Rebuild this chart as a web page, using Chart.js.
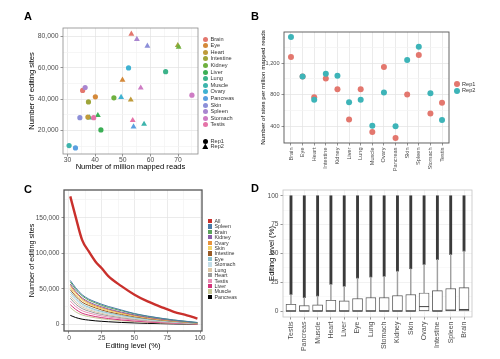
<!DOCTYPE html>
<html>
<head>
<meta charset="utf-8">
<script src="https://cdn.jsdelivr.net/npm/chart.js@4.4.1/dist/chart.umd.min.js"></script>
<style>
  body { margin: 0; background: #fff; }
  #fig { position: relative; width: 500px; height: 359px; overflow: hidden; font-family: "Liberation Sans", Arial, sans-serif; }
  #fig canvas { position: absolute; }
  .tag { position: absolute; font-weight: bold; font-size: 11px; line-height: 11px; color: #000; }
  .lt { position: absolute; white-space: nowrap; color: #333; }
  .mk { position: absolute; }
</style>
</head>
<body>
<div id="fig">
  <canvas id="chartA" width="250" height="180" style="left:0;top:0"></canvas>
  <canvas id="chartB" width="250" height="180" style="left:250px;top:0"></canvas>
  <canvas id="chartC" width="250" height="179" style="left:0;top:180px"></canvas>
  <canvas id="chartD" width="250" height="179" style="left:250px;top:180px"></canvas>
  <div class="tag" style="left:24px;top:10.5px">A</div>
  <div class="tag" style="left:251px;top:10.5px">B</div>
  <div class="tag" style="left:24px;top:183.5px">C</div>
  <div class="tag" style="left:251px;top:182.5px">D</div>
</div>
<script>
// tissues, alphabetical (panels A and B)
const tissues = ["Brain", "Eye", "Heart", "Intestine", "Kidney", "Liver", "Lung", "Muscle", "Ovary", "Pancreas", "Skin", "Spleen", "Stomach", "Testis"];
const tissueColors = ["#E3776E", "#D4893A", "#BF9B3A", "#9EA53A", "#6FB03F", "#3BAF55", "#3CB38A", "#3DB4AC", "#3FB2D2", "#5A9FE0", "#8C8FD8", "#A986D0", "#CE7CC4", "#E573A8"];

// panel A: million mapped reads vs editing sites
const rep1Reads = [35.5, 40.1, 37.4, 37.6, 46.8, 42.1, 65.5, 30.6, 52.1, 32.9, 34.5, 36.4, 75.0, 39.5];
const rep1Sites = [45600, 41500, 28600, 38300, 40900, 20400, 57600, 10400, 60000, 8900, 28200, 47500, 42600, 28200];
const rep2Reads = [53.1, 49.9, 52.9, 69.9, 70.2, 41.0, 38.0, 57.7, 49.4, 53.9, 58.9, 55.1, 56.5, 53.6];
const rep2Sites = [81700, 52300, 39600, 74400, 73300, 29700, 28200, 24100, 41300, 22400, 74000, 78300, 47300, 26500];
const aXTicks = [30, 40, 50, 60, 70];
const aYTicks = [20000, 40000, 60000, 80000];

// panel B: sites per million mapped reads
const rep1PerMillion = [1276, 1031, 771, 1006, 872, 488, 872, 333, 1150, 257, 804, 1301, 564, 699];
const rep2PerMillion = [1528, 1031, 737, 1065, 1040, 708, 737, 409, 829, 404, 1238, 1406, 821, 484];
const bYTicks = [400, 800, 1200];

// panel C: cumulative sites above editing level
const levels = [1, 5, 10, 15, 20, 25, 30, 40, 50, 60, 70, 80, 90, 98];
const cSeries = ["All", "Spleen", "Brain", "Kidney", "Ovary", "Skin", "Intestine", "Eye", "Stomach", "Lung", "Heart", "Testis", "Liver", "Muscle", "Pancreas"];
const cColors = ["#C9302C", "#4A7BA6", "#5AA35A", "#8A5EA6", "#E8933A", "#F2D36B", "#985A26", "#8CC2CF", "#C3DDE7", "#DDC7A5", "#9A9A9A", "#E88FB5", "#D4327A", "#C7C796", "#000000"];
const allSites = [180000, 152000, 119000, 103000, 89000, 79000, 68000, 54000, 42000, 32500, 25000, 18000, 13000, 8500];
const spleenSites = [62000, 52000, 42000, 36000, 32000, 28500, 25500, 20500, 15500, 12000, 9000, 6500, 4500, 3000];
const brainSites = [60000, 50000, 40500, 34500, 30500, 27000, 24000, 19500, 15000, 11500, 8800, 6300, 4300, 2800];
const kidneySites = [57000, 47000, 37500, 32000, 28000, 25000, 22000, 17500, 13500, 10300, 7800, 5600, 3800, 2400];
const ovarySites = [55000, 45000, 36000, 30500, 26500, 23500, 21000, 16500, 12800, 9800, 7400, 5300, 3600, 2300];
const skinSites = [52000, 42500, 34000, 29000, 25000, 22000, 19500, 15500, 12000, 9200, 6900, 5000, 3400, 2200];
const intestineSites = [49000, 40000, 31500, 27000, 23500, 20500, 18000, 14300, 11000, 8400, 6300, 4600, 3100, 2000];
const eyeSites = [46000, 37000, 29000, 24500, 21000, 18500, 16300, 12800, 9800, 7500, 5600, 4000, 2700, 1700];
const stomachSites = [43000, 34500, 27000, 22800, 19600, 17200, 15000, 11800, 9000, 6900, 5200, 3700, 2500, 1600];
const lungSites = [40000, 32000, 25000, 21000, 18000, 15800, 13800, 10800, 8200, 6300, 4700, 3400, 2300, 1500];
const heartSites = [37000, 29000, 22500, 19000, 16200, 14200, 12400, 9600, 7300, 5600, 4200, 3000, 2000, 1300];
const testisSites = [33000, 25500, 19500, 16400, 14000, 12200, 10600, 8200, 6200, 4700, 3500, 2500, 1700, 1100];
const liverSites = [28000, 21500, 16000, 13300, 11300, 9800, 8500, 6500, 5000, 3700, 2800, 2000, 1300, 850];
const muscleSites = [24000, 18000, 13500, 11200, 9500, 8200, 7100, 5400, 4100, 3100, 2300, 1600, 1100, 700];
const pancreasSites = [13000, 10000, 7600, 6300, 5300, 4600, 4000, 3000, 2300, 1700, 1300, 900, 600, 400];
const cValues = [allSites, spleenSites, brainSites, kidneySites, ovarySites, skinSites, intestineSites, eyeSites, stomachSites, lungSites, heartSites, testisSites, liverSites, muscleSites, pancreasSites];
const cXTicks = [0, 25, 50, 75, 100];
const cYTicks = [0, 50000, 100000, 150000];

// panel D: editing level distribution per tissue
const boxTissues = ["Testis", "Pancreas", "Muscle", "Heart", "Liver", "Eye", "Lung", "Stomach", "Kidney", "Skin", "Ovary", "Intestine", "Spleen", "Brain"];
const boxQ3 = [6.0, 4.9, 5.5, 9.5, 8.9, 10.9, 11.8, 11.8, 13.5, 14.4, 15.8, 17.8, 19.6, 20.4];
const boxMedian = [0, 0, 0, 0, 0, 0, 0, 0, 0, 0, 4.0, 0, 1.0, 1.5];
const whiskerTop = [14.5, 11.8, 13.2, 23.3, 21.6, 28.7, 29.6, 30.2, 34.7, 36.8, 40.5, 44.8, 49.1, 52.0];
const outlierMax = [100, 100, 100, 100, 100, 100, 100, 100, 100, 100, 100, 100, 100, 100];
const dYTicks = [0, 25, 50, 75, 100];

Chart.defaults.font.family = '"Liberation Sans", Arial, sans-serif';
Chart.defaults.color = "#4d4d4d";
Chart.defaults.animation = false;
Chart.defaults.events = [];
Chart.defaults.plugins.legend.display = false;
Chart.defaults.plugins.tooltip.enabled = false;

// panel border
Chart.register({
  id: "frame",
  afterDatasetsDraw(chart, args, opts) {
    const { ctx, chartArea: a } = chart;
    ctx.save();
    ctx.strokeStyle = opts.color || "#888";
    ctx.lineWidth = opts.width || 1;
    ctx.strokeRect(a.left, a.top, a.right - a.left, a.bottom - a.top);
    ctx.restore();
  }
});

const fmt = v => v.toLocaleString("en-US");

// linear axis with major (labelled) and minor grid lines
function axis(min, max, allTicks, major, label, size, opt) {
  return {
    type: "linear",
    min: min,
    max: max,
    offset: false,
    afterBuildTicks: s => { s.ticks = allTicks.map(v => ({ value: v })); },
    afterFit: opt.fit,
    border: { display: false },
    grid: {
      offset: false,
      color: c => (c.tick && major.includes(c.tick.value)) ? (opt.major || "#e3e3e3") : (opt.minor || "#f2f2f2"),
      lineWidth: 0.7,
      tickLength: 2.5,
      tickColor: c => (c.tick && major.includes(c.tick.value)) ? "#666" : "rgba(0,0,0,0)"
    },
    ticks: {
      autoSkip: false,
      minRotation: opt.rot || 0,
      maxRotation: opt.rot || 0,
      padding: opt.pad === undefined ? 2 : opt.pad,
      font: { size: size },
      color: "#4d4d4d",
      callback: v => major.includes(v) ? label(v) : ""
    },
    title: opt.title ? { display: true, text: opt.title, color: "#000", font: { size: opt.titleSize }, padding: 0 } : { display: false }
  };
}

// A
new Chart(document.getElementById("chartA"), {
  type: "scatter",
  data: {
    datasets: [
      {
        label: "Rep1",
        data: tissues.map((t, i) => ({ x: rep1Reads[i], y: rep1Sites[i] })),
        pointStyle: "circle",
        pointRadius: 2.6,
        pointBorderWidth: 0,
        pointBackgroundColor: tissueColors
      },
      {
        label: "Rep2",
        data: tissues.map((t, i) => ({ x: rep2Reads[i], y: rep2Sites[i] })),
        pointStyle: "triangle",
        pointRadius: 3.4,
        pointBorderWidth: 0,
        pointBackgroundColor: tissueColors
      }
    ]
  },
  options: {
    responsive: false,
    layout: { padding: { left: 27.5, right: 52, top: 28, bottom: 8.2 } },
    plugins: { frame: { color: "#8a8a8a", width: 0.8 } },
    scales: {
      x: axis(28.4, 77.2, [30, 35, 40, 45, 50, 55, 60, 65, 70, 75], aXTicks, String, 6.8,
        { fit: s => { s.height = 17.8; }, title: "Number of million mapped reads", titleSize: 7.6, pad: 0 }),
      y: axis(5000, 85500, [10000, 20000, 30000, 40000, 50000, 60000, 70000, 80000], aYTicks, fmt, 6.8,
        { fit: s => { s.width = 35.5; }, title: "Number of editing sites", titleSize: 7.6 })
    }
  }
});

// B
const bIdx = tissues.map((t, i) => i);
new Chart(document.getElementById("chartB"), {
  type: "scatter",
  data: {
    datasets: [
      {
        label: "Rep2",
        data: tissues.map((t, i) => ({ x: i, y: rep2PerMillion[i] })),
        pointRadius: 3,
        pointBorderWidth: 0,
        pointBackgroundColor: "#3DB4B8"
      },
      {
        label: "Rep1",
        data: tissues.map((t, i) => ({ x: i, y: rep1PerMillion[i] })),
        pointRadius: 3,
        pointBorderWidth: 0,
        pointBackgroundColor: "#E3776E"
      }
    ]
  },
  options: {
    responsive: false,
    layout: { padding: { left: 9.3, right: 51, top: 32, bottom: 0 } },
    plugins: { frame: { color: "#555", width: 0.9 } },
    scales: {
      x: axis(-0.6, 13.6, bIdx, bIdx, v => tissues[v], 5.6,
        { fit: s => { s.height = 37; }, rot: 90 }),
      y: axis(193, 1592, [200, 400, 600, 800, 1000, 1200, 1400], bYTicks, fmt, 5.6,
        { fit: s => { s.width = 24.7; }, title: "Number of sites per million mapped reads", titleSize: 6.2 })
    }
  }
});

// C
new Chart(document.getElementById("chartC"), {
  type: "line",
  data: {
    datasets: cSeries.map((name, k) => ({
      label: name,
      data: levels.map((l, i) => ({ x: l, y: cValues[k][i] })),
      borderColor: cColors[k],
      borderWidth: k === 0 ? 2.4 : 1,
      pointRadius: 0,
      cubicInterpolationMode: "monotone"
    }))
  },
  options: {
    responsive: false,
    layout: { padding: { left: 27.5, right: 48, top: 10, bottom: 8.5 } },
    plugins: { frame: { color: "#555", width: 1.3 } },
    scales: {
      x: axis(-3.8, 101.5, [0, 12.5, 25, 37.5, 50, 62.5, 75, 87.5, 100], cXTicks, String, 6.6,
        { fit: s => { s.height = 19.5; }, title: "Editing level (%)", titleSize: 7.6, pad: 0.5 }),
      y: axis(-9000, 189000, [0, 25000, 50000, 75000, 100000, 125000, 150000, 175000], cYTicks, fmt, 6.6,
        { fit: s => { s.width = 36.5; }, title: "Number of editing sites", titleSize: 7.2 })
    }
  }
});

// D
const dIdx = boxTissues.map((t, i) => i);
new Chart(document.getElementById("chartD"), {
  type: "bar",
  data: {
    datasets: [
      {
        type: "scatter",
        label: "median",
        data: boxTissues.map((t, i) => ({ x: i, y: boxMedian[i] })),
        pointStyle: "line",
        pointRadius: 5,
        pointBorderWidth: 1,
        pointBorderColor: "#444",
        order: 0
      },
      {
        label: "box",
        data: boxTissues.map((t, i) => ({ x: i, y: [0, boxQ3[i]] })),
        backgroundColor: "#ffffff",
        borderColor: "#5a5a5a",
        borderWidth: 0.9,
        borderSkipped: false,
        barThickness: 10,
        grouped: false,
        order: 1
      },
      {
        label: "whisker",
        data: boxTissues.map((t, i) => ({ x: i, y: [boxQ3[i], whiskerTop[i]] })),
        backgroundColor: "#a0a0a0",
        barThickness: 0.8,
        grouped: false,
        order: 2
      },
      {
        label: "outliers",
        data: boxTissues.map((t, i) => ({ x: i, y: [whiskerTop[i], outlierMax[i]] })),
        backgroundColor: "#3a3a3a",
        barThickness: 2.2,
        grouped: false,
        order: 3
      }
    ]
  },
  options: {
    responsive: false,
    layout: { padding: { left: 17.2, right: 28, top: 10, bottom: 0 } },
    plugins: { frame: { color: "#c4c4c4", width: 0.8 } },
    scales: {
      x: axis(-0.6, 13.6, dIdx, dIdx, v => boxTissues[v], 7,
        { fit: s => { s.height = 42; }, rot: 90, major: "#ececec" }),
      y: axis(-5, 105, [0, 12.5, 25, 37.5, 50, 62.5, 75, 87.5, 100], dYTicks, String, 6.6,
        { fit: s => { s.width = 15.8; }, title: "Editing level (%)", titleSize: 7.6, major: "#ececec", minor: "#f6f6f6" })
    }
  }
});

// legends (HTML)
const fig = document.getElementById("fig");
function el(cls, css, text) {
  const d = document.createElement("div");
  d.className = cls;
  Object.assign(d.style, css);
  if (text) d.textContent = text;
  fig.appendChild(d);
  return d;
}
function legendText(x, cy, size, text) {
  el("lt", { left: x + "px", top: (cy - size * 0.6) + "px", fontSize: size + "px", lineHeight: (size * 1.2) + "px" }, text);
}
function dot(cx, cy, d, color) {
  el("mk", { left: (cx - d / 2) + "px", top: (cy - d / 2) + "px", width: d + "px", height: d + "px", borderRadius: "50%", background: color });
}
function tri(cx, cy, w, color) {
  const h = w * 0.9;
  el("mk", { left: (cx - w / 2) + "px", top: (cy - h / 2) + "px", width: w + "px", height: h + "px", background: color, clipPath: "polygon(50% 0, 100% 100%, 0 100%)" });
}
function square(cx, cy, w, color) {
  el("mk", { left: (cx - w / 2) + "px", top: (cy - w / 2) + "px", width: w + "px", height: w + "px", background: color });
}

tissues.forEach((t, i) => {
  const cy = 39 + i * 6.6;
  dot(205.3, cy, 5, tissueColors[i]);
  legendText(210.5, cy, 5.6, t);
});
dot(205.3, 141.6, 5, "#000");
legendText(210.5, 141.6, 5.6, "Rep1");
tri(205.3, 146.2, 6, "#000");
legendText(210.5, 146.4, 5.6, "Rep2");

dot(456.7, 84.3, 6, "#E3776E");
legendText(462, 84.3, 5.6, "Rep1");
dot(456.7, 90.7, 6, "#3DB4B8");
legendText(462, 90.7, 5.6, "Rep2");

cSeries.forEach((name, k) => {
  const cy = 221 + k * 5.43;
  square(209.6, cy, 4.2, cColors[k]);
  legendText(214.5, cy, 5.3, name);
});
</script>
</body>
</html>
